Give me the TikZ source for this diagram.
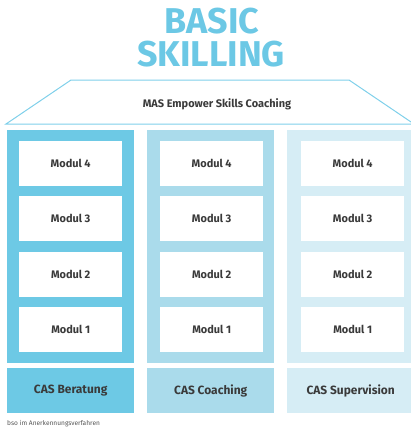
\documentclass[tikz,border=0pt]{standalone}
\usepackage{fontspec}
\setmainfont{Fira Sans}
\definecolor{titleblue}{HTML}{6CC8E5}
\definecolor{colA}{HTML}{6DC9E5}
\definecolor{colB}{HTML}{AADBEB}
\definecolor{colC}{HTML}{D6EDF5}
\definecolor{roofline}{HTML}{7FD0EA}
\definecolor{txt}{HTML}{3A3A3A}
\definecolor{note}{HTML}{555555}
\begin{document}
\begin{tikzpicture}[x=1bp,y=-1bp,
  colbox/.style={draw=none,inner sep=0pt,minimum width=127bp,minimum height=233bp,anchor=north west},
  modbox/.style={fill=white,draw=none,inner sep=0pt,minimum width=103bp,minimum height=45bp,anchor=north west,
    font=\fontsize{11}{13}\selectfont\bfseries,text=txt},
  casbox/.style={draw=none,inner sep=0pt,minimum width=127bp,minimum height=45bp,anchor=north west,
    font=\fontsize{12}{14}\selectfont\bfseries,text=txt},
  titletext/.style={text=titleblue,font=\fontsize{36}{36}\selectfont\bfseries,anchor=base,inner sep=0pt},
  roof/.style={draw=roofline,line width=1bp}]
\useasboundingbox (0,0) rectangle (411,427);
\begin{scope}
\clip (0,0) rectangle (411,427);
% title
\node[titletext] (title1) at (212,33) {BASIC};
\node[titletext] (title2) at (211,66) {SKILLING};
% roof
\coordinate (rtl) at (71,80);
\coordinate (rtr) at (349,80);
\coordinate (rbl) at (6,124);
\coordinate (rbr) at (414,124);
\draw[roof,line join=miter] (rbl) -- (rtl) -- (rtr) -- (rbr) -- cycle;
\node[text=txt,font=\fontsize{11}{13}\selectfont\bfseries,anchor=base] (mas) at (217,107) {MAS Empower Skills Coaching};
% columns
\node[colbox,fill=colA] (c1) at (7,130) {};
\node[colbox,fill=colB] (c2) at (147,130) {};
\node[colbox,fill=colC] (c3) at (287,130) {};
% modules column 1
\node[modbox] (a4) at (19,141) {Modul 4};
\node[modbox] (a3) at (19,196) {Modul 3};
\node[modbox] (a2) at (19,252) {Modul 2};
\node[modbox] (a1) at (19,307) {Modul 1};
% column 2
\node[modbox] (b4) at (160,141) {Modul 4};
\node[modbox] (b3) at (160,196) {Modul 3};
\node[modbox] (b2) at (160,252) {Modul 2};
\node[modbox] (b1) at (160,307) {Modul 1};
% column 3
\node[modbox] (d4) at (301,141) {Modul 4};
\node[modbox] (d3) at (301,196) {Modul 3};
\node[modbox] (d2) at (301,252) {Modul 2};
\node[modbox] (d1) at (301,307) {Modul 1};
% CAS
\node[casbox,fill=colA] (k1) at (7,368) {CAS Beratung};
\node[casbox,fill=colB] (k2) at (147,368) {CAS Coaching};
\node[casbox,fill=colC] (k3) at (287,368) {CAS Supervision};
% note
\node[text=note,font=\fontsize{6.6}{8}\selectfont,anchor=base west,inner sep=0pt] (nt) at (7,425) {bso im Anerkennungsverfahren};
\end{scope}
\end{tikzpicture}
\end{document}
